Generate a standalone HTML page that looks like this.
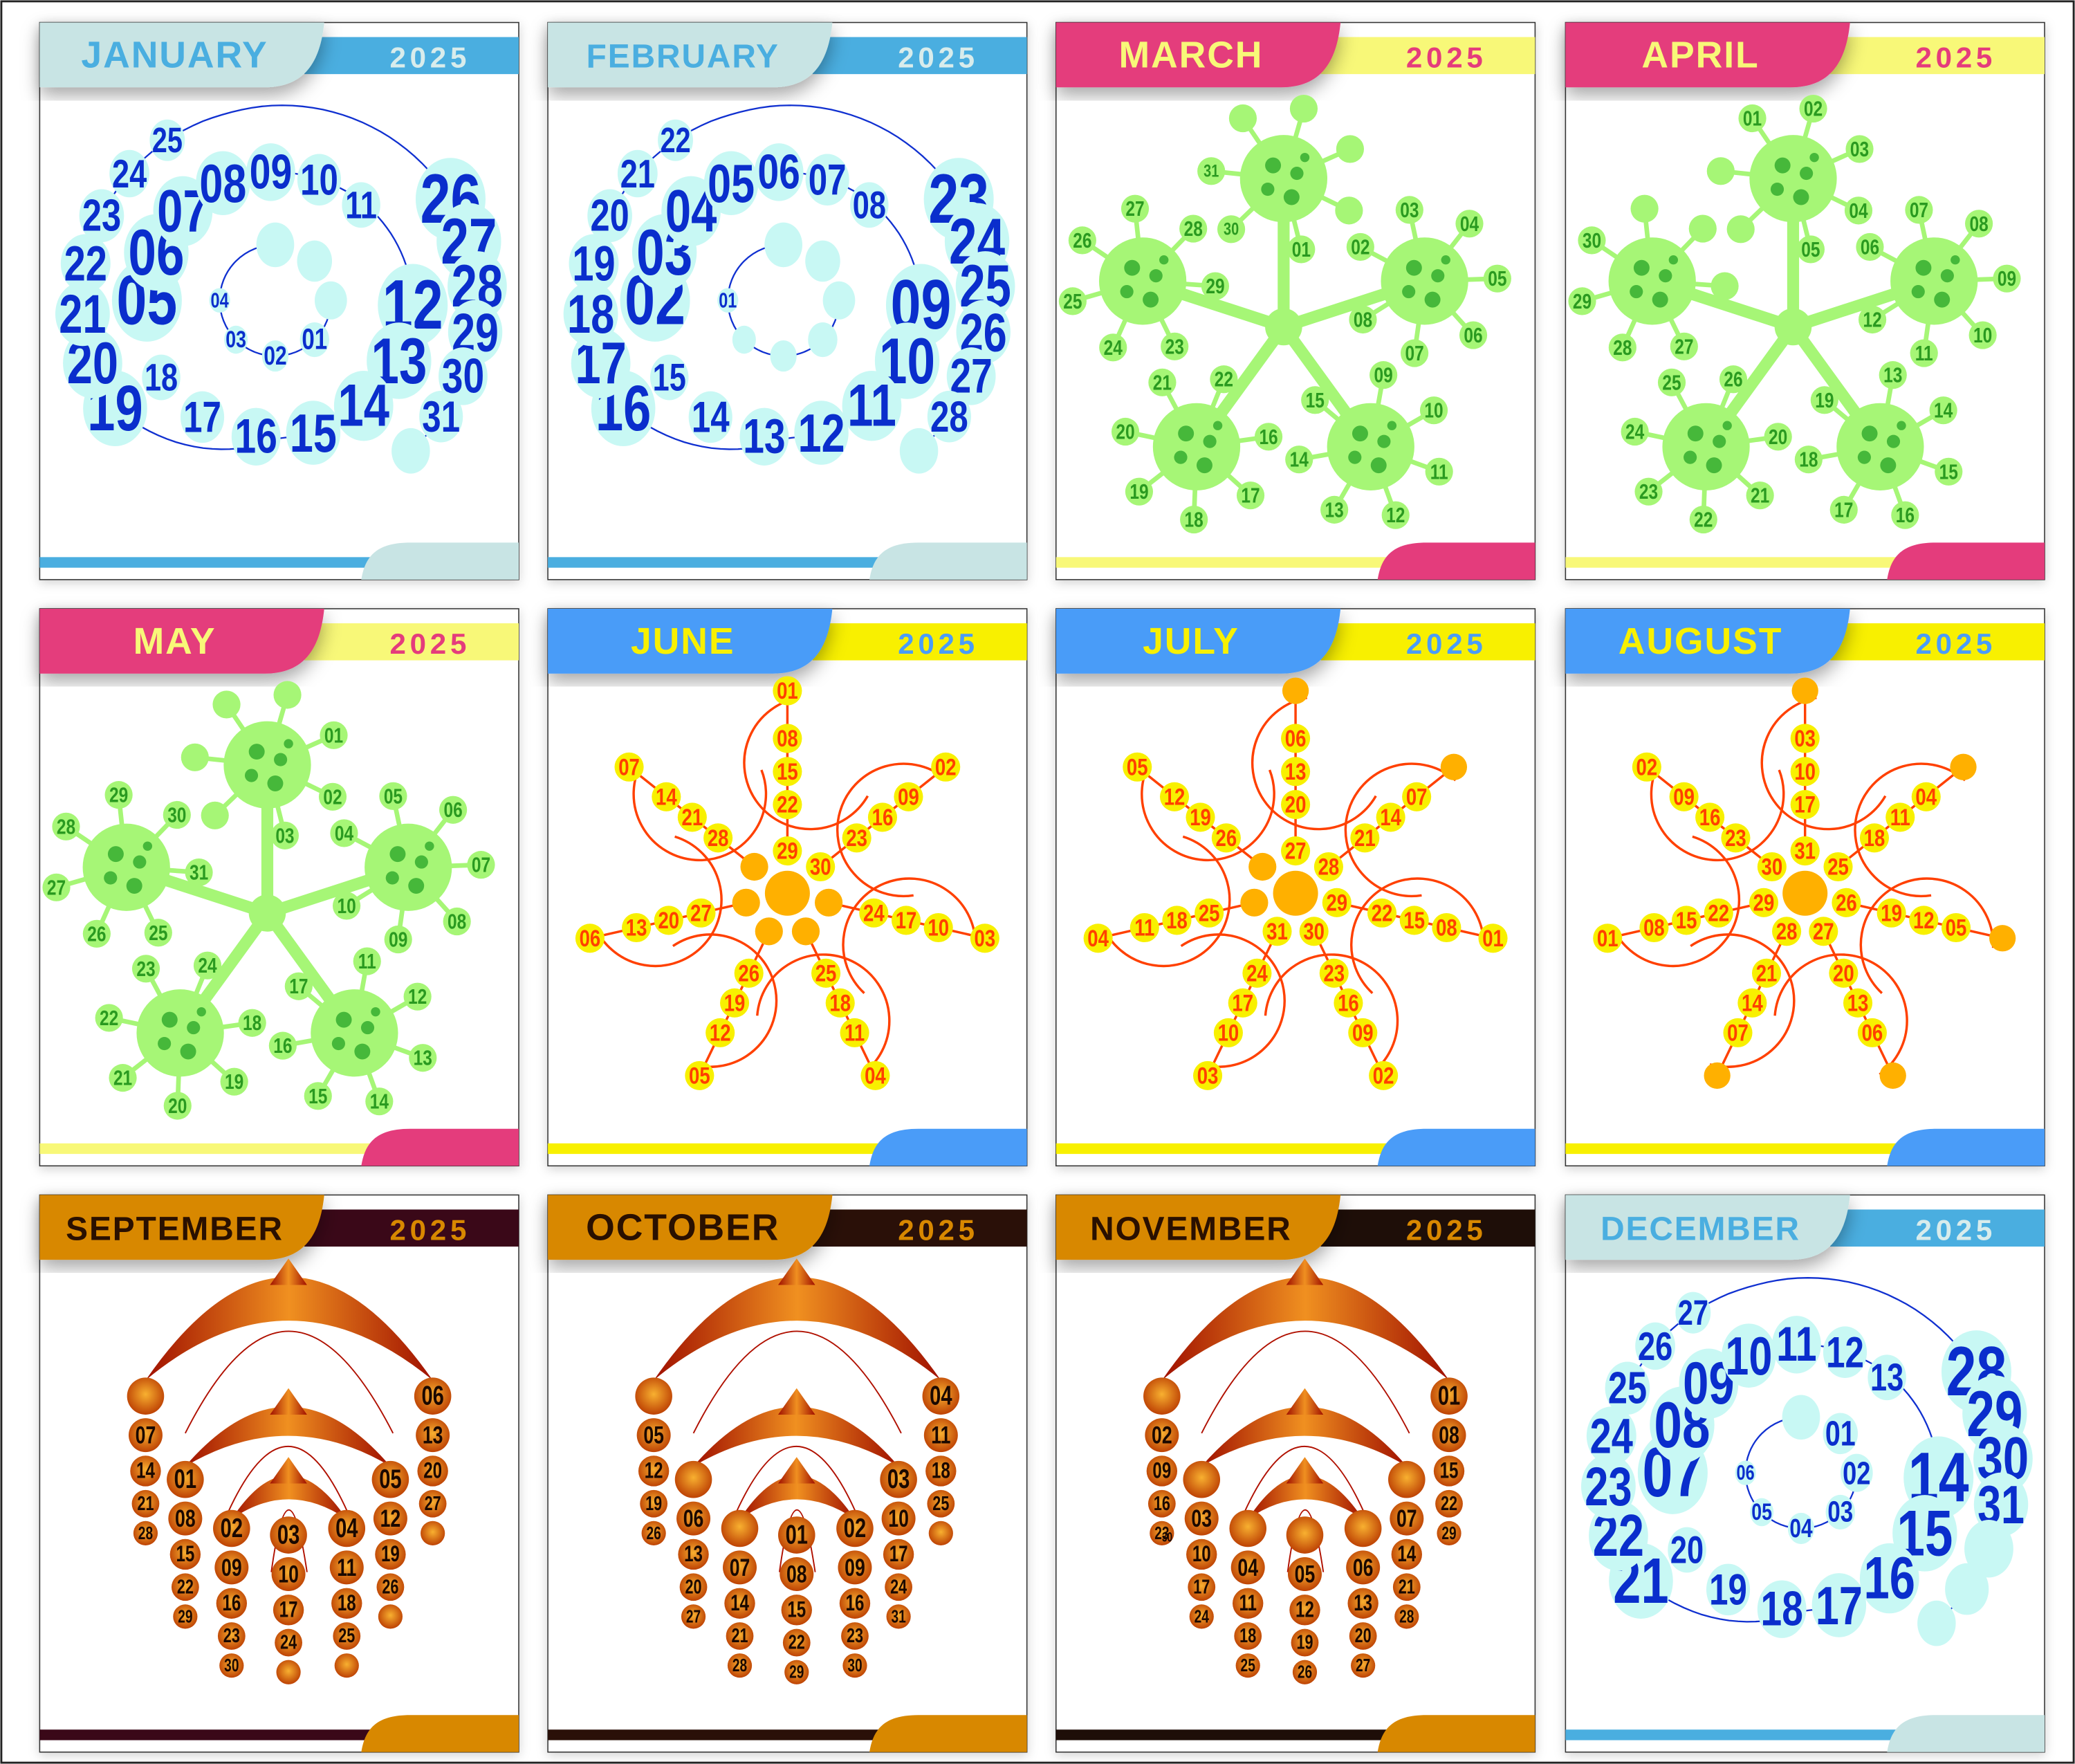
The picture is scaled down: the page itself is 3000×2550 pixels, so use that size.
<!DOCTYPE html>
<html><head><meta charset="utf-8">
<style>
html,body{margin:0;padding:0;background:#fff;}
svg{display:block;}
text{font-family:"Liberation Sans Narrow","Liberation Sans",sans-serif;font-weight:bold;}
</style></head>
<body>
<svg id="cal" xmlns="http://www.w3.org/2000/svg" width="3000" height="2550" viewBox="0 0 1568 1333" preserveAspectRatio="none">
<defs>
<filter id="sh" x="-20%" y="-20%" width="140%" height="140%"><feDropShadow dx="0" dy="6" stdDeviation="7" flood-color="#000" flood-opacity="0.35"/></filter>
<filter id="psh" x="-5%" y="-5%" width="110%" height="110%"><feDropShadow dx="0" dy="2" stdDeviation="4" flood-color="#000" flood-opacity="0.18"/></filter>
<radialGradient id="og" cx="50%" cy="45%" r="60%"><stop offset="0" stop-color="#f8b030"/><stop offset="1" stop-color="#b83800"/></radialGradient>
<linearGradient id="cg" x1="0" y1="0" x2="1" y2="0"><stop offset="0" stop-color="#a01000"/><stop offset="0.5" stop-color="#f09020"/><stop offset="1" stop-color="#a01000"/></linearGradient>
</defs>
<rect x="1" y="1" width="1566" height="1331" fill="none" stroke="#222" stroke-width="1.5"/>
</svg>
<script>
// ---- data ----
const monthNames = ["JANUARY","FEBRUARY","MARCH","APRIL","MAY","JUNE","JULY","AUGUST","SEPTEMBER","OCTOBER","NOVEMBER","DECEMBER"];
const yearLabel = "2025";
const firstWeekday = [3,6,6,2,4,0,2,5,1,3,6,1];
const daysInMonth = [31,28,31,30,31,30,31,31,30,31,30,31];
const monthStyle = ["spiral","spiral","virus","virus","virus","flower","flower","flower","mobile","mobile","mobile","spiral"];

const NS = "http://www.w3.org/2000/svg";
const svg = document.getElementById('cal');
function mk(tag, parent, attrs){
  const e = document.createElementNS(NS, tag);
  for (const k in attrs) e.setAttribute(k, attrs[k]);
  parent.appendChild(e);
  return e;
}
const colX = [30,414,798,1183], rowY = [17,460,903], PW = 362, PH = 421;
const themes = {
  spiral:{tab:"#c8e4e4",bar:"#4aaee0",mt:"#4aaee0",yt:"#d8ecec"},
  virus:{tab:"#e43c7c",bar:"#f8f878",mt:"#f8f878",yt:"#e43c7c"},
  flower:{tab:"#4a9cf8",bar:"#f8f000",mt:"#f8f000",yt:"#4a9cf8"},
  mobile:{tab:"#d88800",bar:"#3a0818",mt:"#2a1000",yt:"#d88800"}
};
const mobileBars = ["#3a0818","#2a1008","#1e0e08"];
function rad(a){return a*Math.PI/180;}
function pad(d){return (d<10?"0":"")+d;}

function dayText(g, x, y, d, size, fill, sx){
  const t = mk('text', g, {x:0,y:0,'font-size':size,fill:fill,'text-anchor':'middle','dominant-baseline':'central',
    transform:`translate(${x.toFixed(1)},${y.toFixed(1)}) scale(${sx},1)`});
  t.textContent = pad(d);
  
  
  return t;
}

function spiral(g, x0, y0, m){
  const cx = x0+178, cy = y0+210;
  const R = [42,97,104,146,153,156];
  const base = [26,48,48,44,48,46];
  const start = [-90,180,362,506,690,860,1010];
  const step = [45,22,24,15,13,13];
  const pos = (wk,w)=>{
    const th = start[wk] + w*step[wk];
    return [cx + R[wk]*Math.cos(rad(th)), cy + R[wk]*Math.sin(rad(th))];
  };
  const total = firstWeekday[m] + daysInMonth[m];
  const weeks = Math.ceil(total/7);
  // spiral line
  let pts = [];
  for (let k = 1; k < weeks; k++){
    const a0 = start[k], a1 = (k+1 < weeks) ? start[k+1] : start[k] + 6*step[k];
    const rA = R[k], rB = (k+1 < weeks) ? R[k+1] : R[k];
    for (let th = a0; th < a1; th += 3){
      const f = (th-a0)/(a1-a0);
      const r = rA + (rB-rA)*Math.max(0,(f-0.6)/0.4);
      pts.push((cx + r*Math.cos(rad(th))).toFixed(1)+','+(cy + r*Math.sin(rad(th))).toFixed(1));
    }
  }
  const ln = mk('polyline', g, {points:pts.join(' '), fill:'none', stroke:'#1030d0','stroke-width':1.2});
  
  
  const inner = mk('path', g, {d:`M ${cx+R[0]} ${cy} A ${R[0]} ${R[0]} 0 1 1 ${cx} ${cy-R[0]}`, fill:'none', stroke:'#1030d0','stroke-width':1.2});
  
  
  for (let i = 0; i < weeks*7; i++){
    const wk = Math.floor(i/7), w = i%7;
    const d = i - firstWeekday[m] + 1;
    const [x,y] = pos(wk,w);
    const s = base[wk]*(1-0.075*w);
    const e = mk('ellipse', g, {cx:x.toFixed(1), cy:y.toFixed(1), rx:(s*0.55).toFixed(1), ry:(s*0.65).toFixed(1), fill:'#c8f8f4'});
    
    
    if (d>=1 && d<=daysInMonth[m]) dayText(g, x, y, d, s*1.1, '#0a2ecc', 0.78);
  }
}

function virus(g, x0, y0, m){
  const cx = x0+172, cy = y0+230;
  const green = '#a6f676', dark = '#46b83a';
  const cells = [];
  for (let k=0;k<5;k++){
    const phi = -90 + k*72;
    cells.push([cx + 112*Math.cos(rad(phi)), cy + 112*Math.sin(rad(phi)), phi]);
  }
  cells.forEach(c=>{
    const l = mk('line', g, {x1:cx,y1:cy,x2:c[0].toFixed(1),y2:c[1].toFixed(1),stroke:green,'stroke-width':9,'stroke-linecap':'round'});
    
    
  });
  const hub = mk('circle', g, {cx:cx,cy:cy,r:14,fill:green});
  
  
  const total = firstWeekday[m] + daysInMonth[m];
  const weeks = Math.ceil(total/7);
  cells.forEach((c,k)=>{
    for (let w=0; w<7; w++){
      const a = c[2] + 226 + w*50;
      const x = c[0] + 55*Math.cos(rad(a)), y = c[1] + 55*Math.sin(rad(a));
      const sp = mk('line', g, {x1:c[0].toFixed(1),y1:c[1].toFixed(1),x2:x.toFixed(1),y2:y.toFixed(1),stroke:green,'stroke-width':3.5});
      
      
      const b = mk('circle', g, {cx:x.toFixed(1),cy:y.toFixed(1),r:10.5,fill:green});
      
      
      for (let wk = k; wk < weeks; wk += 5){
        const d = wk*7 + w - firstWeekday[m] + 1;
        if (d>=1 && d<=daysInMonth[m]) dayText(g, x, y, d, wk>=5?13:16, '#2a9a20', 0.8);
      }
    }
    const body = mk('circle', g, {cx:c[0].toFixed(1),cy:c[1].toFixed(1),r:33,fill:green});
    
    
    [[-8,-10,6],[10,-4,5],[-12,8,5],[6,14,6],[16,-16,3.5]].forEach(s=>{
      const sd = mk('circle', g, {cx:(c[0]+s[0]).toFixed(1),cy:(c[1]+s[1]).toFixed(1),r:s[2],fill:dark});
      
      
    });
  });
}

function flower(g, x0, y0, m){
  const cx = x0+181, cy = y0+215;
  const R = [153,117,92,67,32,32];
  const red = '#ff4000';
  const total = firstWeekday[m] + daysInMonth[m];
  const weeks = Math.ceil(total/7);
  for (let w=0; w<7; w++){
    const a = -90 + w*360/7;
    const lc = [cx + 100*Math.cos(rad(a+10)), cy + 100*Math.sin(rad(a+10))];
    const r0 = 50, s0 = a+120, s1 = a+420-70;
    const p0 = [lc[0]+r0*Math.cos(rad(s0)), lc[1]+r0*Math.sin(rad(s0))];
    const p1 = [lc[0]+r0*Math.cos(rad(s1)), lc[1]+r0*Math.sin(rad(s1))];
    const loop = mk('path', g, {d:`M ${p0[0].toFixed(1)} ${p0[1].toFixed(1)} A ${r0} ${r0} 0 1 1 ${p1[0].toFixed(1)} ${p1[1].toFixed(1)}`, fill:'none', stroke:red, 'stroke-width':1.8});
    
    
    const arm = mk('line', g, {x1:(cx+R[0]*Math.cos(rad(a))).toFixed(1),y1:(cy+R[0]*Math.sin(rad(a))).toFixed(1),x2:(cx+R[4]*Math.cos(rad(a))).toFixed(1),y2:(cy+R[4]*Math.sin(rad(a))).toFixed(1),stroke:red,'stroke-width':1.8});
    
    
  }
  const core = mk('circle', g, {cx:cx,cy:cy,r:17,fill:'#ffb000'});
  
  
  for (let i=0; i<Math.max(weeks,5)*7; i++){
    const wk = Math.floor(i/7), w = i%7;
    const a = -90 + w*360/7;
    const x = cx + R[wk]*Math.cos(rad(a)), y = cy + R[wk]*Math.sin(rad(a));
    const d = i - firstWeekday[m] + 1;
    if (d>=1 && d<=daysInMonth[m]){
      const c = mk('circle', g, {cx:x.toFixed(1),cy:y.toFixed(1),r:11,fill:'#f8f000'});
      
      
      dayText(g, x, y, d, 18, red, 0.8);
    } else if (wk<5) {
      const c = mk('circle', g, {cx:x.toFixed(1),cy:y.toFixed(1),r:wk===0?10:10.5,fill:'#ffb000'});
      
      
    }
  }
}

function mobile(g, x0, y0, m){
  const colXr = [80,110,145,188,232,265,297];
  const colTop = [152,215,252,257,252,215,152];
  const cx = x0+188;
  const cres = [[80,297,140,62,95],[110,265,205,160,182],[145,232,245,212,230]];
  cres.forEach((c,i)=>{
    const xa = x0+c[0], xb = x0+c[1], ye = y0+c[2];
    const co = 2*(y0+c[3]) - ye, ci = 2*(y0+c[4]) - ye;
    const p = mk('path', g, {d:`M ${xa} ${ye} Q ${cx} ${co} ${xb} ${ye} Q ${cx} ${ci} ${xa} ${ye} Z`, fill:'url(#cg)'});
    
    
    const tp = y0+c[3];
    const tri = mk('path', g, {d:`M ${cx-14} ${tp+6} L ${cx} ${tp-14} L ${cx+14} ${tp+6} Z`, fill:'url(#cg)'});
    
    
    const thin = mk('path', g, {d:`M ${xa+30} ${ye+40} Q ${cx} ${2*(y0+c[4]+8)-(ye+40)} ${xb-30} ${ye+40}`, fill:'none', stroke:'#b01000','stroke-width':1});
    
    
  });
  const total = firstWeekday[m] + daysInMonth[m];
  const weeks = Math.ceil(total/7);
  for (let w=0; w<7; w++){
    let y = y0 + colTop[w];
    for (let wk=0; wk<5; wk++){
      const r = 14 - wk*1.2;
      const x = x0 + colXr[w];
      const d1 = wk*7 + w - firstWeekday[m] + 1;
      const d2 = (wk+1)*7 + w - firstWeekday[m] + 1;
      const c = mk('circle', g, {cx:x,cy:y.toFixed(1),r:r.toFixed(1),fill:'url(#og)'});
      
      
      if (d1>=1 && d1<=daysInMonth[m]) dayText(g, x, y, d1, r*1.45, '#1a0800', 0.75);
      if (wk===4 && weeks>5 && d2<=daysInMonth[m]) dayText(g, x+4, y+3, d2, r*1.1, '#1a0800', 0.7);
      y += 2*r + 1.5;
    }
  }
}

for (let m=0; m<12; m++){
  const x0 = colX[m%4], y0 = rowY[Math.floor(m/4)];
  const th = Object.assign({}, themes[monthStyle[m]]);
  if (monthStyle[m]==='mobile') th.bar = mobileBars[m-8];
  const g = mk('g', svg, {});
  
  
  const card = mk('rect', g, {x:x0,y:y0,width:PW,height:PH,fill:'#fff',stroke:'#333','stroke-width':0.8,filter:'url(#psh)'});
  
  
  const bar = mk('rect', g, {x:x0+200,y:y0+11,width:PW-200,height:28,fill:th.bar});
  
  
  const tab = mk('path', g, {d:`M ${x0} ${y0} H ${x0+215} C ${x0+212} ${y0+30} ${x0+200} ${y0+49} ${x0+170} ${y0+49} H ${x0} Z`, fill:th.tab, filter:'url(#sh)'});
  
  
  const mt = mk('text', g, {x:x0+102,y:y0+34,'font-size':monthNames[m].length>7?25:28,fill:th.mt,'text-anchor':'middle','letter-spacing':1,style:'font-family:"Liberation Sans",sans-serif'});
  mt.textContent = monthNames[m];
  
  
  const yt = mk('text', g, {x:x0+295,y:y0+34,'font-size':22,fill:th.yt,'text-anchor':'middle','letter-spacing':3,style:'font-family:"Liberation Sans",sans-serif'});
  yt.textContent = yearLabel;
  
  
  const stripe = mk('rect', g, {x:x0,y:y0+404,width:262,height:8,fill:th.bar});
  
  
  const bt = mk('path', g, {d:`M ${x0+243} ${y0+421} C ${x0+246} ${y0+402} ${x0+256} ${y0+393} ${x0+280} ${y0+393} H ${x0+PW} V ${y0+421} Z`, fill:th.tab});
  
  
  const content = mk('g', g, {});
  
  
  if (monthStyle[m]==='spiral') spiral(content, x0, y0, m);
  else if (monthStyle[m]==='virus') virus(content, x0, y0, m);
  else if (monthStyle[m]==='flower') flower(content, x0, y0, m);
  else mobile(content, x0, y0, m);
}
</script>
</body></html>
